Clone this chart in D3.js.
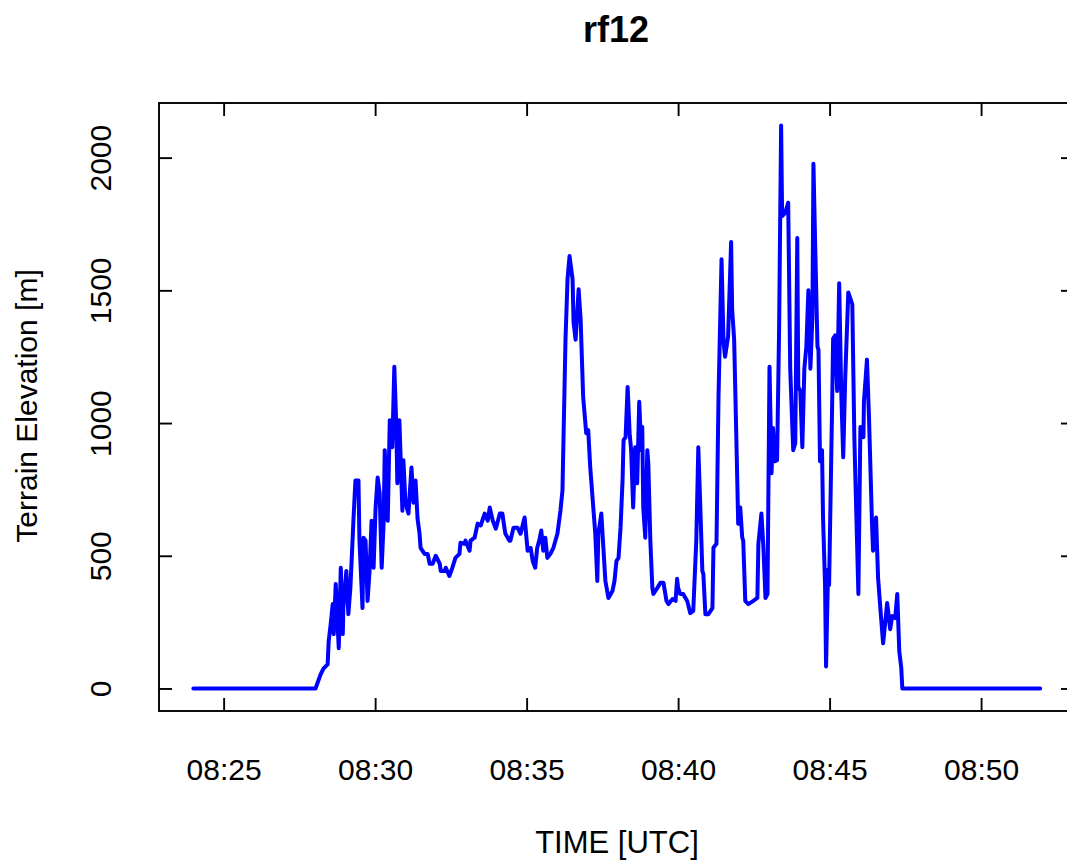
<!DOCTYPE html>
<html>
<head>
<meta charset="utf-8">
<script src="https://cdn.jsdelivr.net/npm/d3@7"></script>
<style>
  html, body { margin: 0; padding: 0; background: #fff; }
  svg text { font-family: "Liberation Sans", Arial, Helvetica, sans-serif; fill: #000; }
</style>
</head>
<body>
<div id="viz"></div>
<script>
// terrain elevation under flight rf12
// time is seconds after 08:00:00 UTC
const secondsAfter0800 = [
  1440, 1682, 1692, 1698, 1706, 1708, 1712, 1716, 1718, 1722, 1726, 1728, 1732, 1736, 1737,
  1743, 1747, 1751, 1755, 1757, 1761, 1767, 1769, 1775, 1777, 1781, 1785, 1789, 1793, 1797,
  1801, 1805, 1809, 1813, 1817, 1819, 1825, 1829, 1834, 1838, 1842, 1844, 1848, 1854, 1856,
  1860, 1866, 1872, 1876, 1880, 1884, 1888, 1890, 1898, 1904, 1908, 1914, 1920, 1928, 1930,
  1938, 1940, 1947, 1953, 1959, 1967, 1969, 1977, 1979, 1987, 1989, 1997, 2003, 2009, 2017,
  2023, 2027, 2033, 2039, 2047, 2052, 2056, 2058, 2066, 2068, 2074, 2082, 2088, 2096, 2102,
  2108, 2112, 2117, 2121, 2125, 2129, 2133, 2137, 2141, 2147, 2153, 2161, 2167, 2171, 2173,
  2177, 2181, 2185, 2191, 2193, 2197, 2201, 2203, 2207, 2210, 2212, 2218, 2222, 2226, 2232,
  2236, 2240, 2242, 2248, 2252, 2256, 2262, 2270, 2274, 2278, 2282, 2286, 2290, 2292, 2296,
  2300, 2304, 2307, 2311, 2315, 2319, 2323, 2327, 2329, 2331, 2335, 2339, 2341, 2345, 2349,
  2351, 2359, 2365, 2371, 2377, 2381, 2389, 2395, 2398, 2400, 2404, 2410, 2418, 2424, 2430,
  2436, 2440, 2444, 2448, 2450, 2454, 2460, 2468, 2470, 2476, 2480, 2486, 2490, 2493, 2499,
  2505, 2507, 2511, 2515, 2519, 2523, 2527, 2529, 2533, 2539, 2549, 2557, 2559, 2565, 2569,
  2573, 2577, 2581, 2585, 2588, 2592, 2596, 2600, 2604, 2606, 2612, 2618, 2622, 2626, 2628,
  2632, 2636, 2638, 2642, 2646, 2650, 2654, 2658, 2662, 2666, 2668, 2672, 2676, 2678, 2681,
  2685, 2687, 2691, 2693, 2697, 2699, 2705, 2707, 2711, 2715, 2719, 2723, 2727, 2731, 2737,
  2745, 2749, 2757, 2761, 2767, 2768, 2774, 2778, 2784, 2786, 2792, 2796, 2802, 2806, 2814,
  2820, 2824, 2830, 2834, 2838, 2842, 2844, 3117
];

const elevation = [
  0, 0, 53, 76, 91, 178, 242, 318, 205, 394, 227, 152, 455, 205, 303,
  443, 280, 379, 545, 632, 784, 784, 557, 303, 568, 557, 330, 443, 632, 455,
  682, 795, 735, 455, 632, 898, 632, 1011, 909, 1212, 985, 773, 1011, 670, 860,
  700, 659, 833, 700, 784, 640, 583, 530, 507, 507, 470, 470, 500, 470, 443,
  443, 455, 424, 455, 492, 507, 549, 545, 557, 519, 557, 568, 621, 614, 659,
  632, 682, 632, 602, 659, 659, 606, 583, 557, 557, 606, 606, 583, 644, 519,
  530, 481, 455, 530, 557, 595, 519, 568, 492, 507, 530, 583, 670, 746, 936,
  1314, 1542, 1629, 1542, 1379, 1314, 1439, 1504, 1390, 1212, 1098, 962, 973, 833, 682,
  583, 405, 583, 659, 530, 405, 341, 367, 405, 481, 492, 606, 784, 936, 947,
  1136, 962, 898, 682, 909, 773, 1080, 898, 985, 682, 568, 898, 848, 557, 379,
  356, 379, 398, 398, 330, 318, 337, 330, 413, 379, 356, 356, 330, 284, 292,
  557, 909, 682, 443, 432, 280, 280, 303, 530, 545, 1098, 1617, 1303, 1250, 1326,
  1682, 1428, 1314, 973, 621, 682, 568, 557, 330, 318, 330, 341, 545, 659, 530,
  341, 356, 1212, 811, 981, 856, 860, 1352, 2121, 1780, 1792, 1830, 1205, 996, 898,
  924, 1697, 1136, 1121, 909, 1205, 1288, 1500, 1205, 1402, 1977, 1625, 1288, 1276, 856,
  898, 644, 390, 83, 447, 390, 1064, 1318, 1330, 1121, 1527, 1121, 871, 1174, 1492,
  1447, 947, 356, 985, 947, 1080, 1239, 1023, 621, 519, 644, 417, 265, 170, 322,
  223, 273, 265, 356, 140, 76, 0, 0
];

const yTicks = [0, 500, 1000, 1500, 2000];
const titleText = "rf12";
const xLabel = "TIME [UTC]";
const yLabel = "Terrain Elevation [m]";

const W = 1067, H = 862;
const plot = { left: 159, right: 1074, top: 103, bottom: 711 };

const toDate = s => new Date(Date.UTC(2020, 0, 1, 8, 0, s));
const data = secondsAfter0800.map((s, i) => ({ t: toDate(s), e: elevation[i] }));

// R style 4% padding of the data range
function pad(ext) {
  const d = (ext[1] - ext[0]) * 0.04;
  return [ext[0] - d, ext[1] + d];
}

const tExt = pad(d3.extent(secondsAfter0800));
const x = d3.scaleUtc()
            .domain([toDate(tExt[0]), toDate(tExt[1])])
            .range([plot.left, plot.right]);

const y = d3.scaleLinear()
            .domain(pad(d3.extent(elevation)))
            .range([plot.bottom, plot.top]);

const svg = d3.select("#viz")
              .append("svg")
              .attr("width", W)
              .attr("height", H);

const xTickVals = x.ticks(d3.utcMinute.every(5));
const fmt = d3.utcFormat("%H:%M");

// the line
const line = d3.line()
               .x(d => x(d.t))
               .y(d => y(d.e));

svg.append("path")
   .datum(data)
   .attr("d", line)
   .attr("fill", "none")
   .attr("stroke", "#0000ff")
   .attr("stroke-width", 4)
   .attr("stroke-linejoin", "round")
   .attr("stroke-linecap", "round");

// box
svg.append("rect")
   .attr("x", plot.left)
   .attr("y", plot.top)
   .attr("width", plot.right - plot.left)
   .attr("height", plot.bottom - plot.top)
   .attr("fill", "none")
   .attr("stroke", "#000")
   .attr("stroke-width", 1.9);

// ticks point inward on all four sides
const tick = 13;
function styleAxis(g) {
  g.select(".domain").remove();
  g.selectAll(".tick line").attr("stroke", "#000").attr("stroke-width", 1.9);
}

svg.append("g")
   .attr("transform", `translate(0,${plot.bottom})`)
   .call(d3.axisBottom(x).tickValues(xTickVals).tickFormat(fmt).tickSize(-tick))
   .call(styleAxis)
   .call(g => g.selectAll(".tick text")
               .attr("y", 69).attr("dy", 0)
               .style("font-size", "30px"));

svg.append("g")
   .attr("transform", `translate(0,${plot.top})`)
   .call(d3.axisTop(x).tickValues(xTickVals).tickFormat("").tickSize(-tick))
   .call(styleAxis);

svg.append("g")
   .attr("transform", `translate(${plot.left},0)`)
   .call(d3.axisLeft(y).tickValues(yTicks).tickFormat(d3.format("d")).tickSize(-tick))
   .call(styleAxis)
   .call(g => g.selectAll(".tick text")
               .attr("x", 0).attr("dy", 0)
               .attr("text-anchor", "middle")
               .attr("transform", "translate(-48,0) rotate(-90)")
               .style("font-size", "30px"));

svg.append("g")
   .attr("transform", `translate(${plot.right},0)`)
   .call(d3.axisRight(y).tickValues(yTicks).tickFormat("").tickSize(-tick))
   .call(styleAxis);

// titles
svg.append("text")
   .attr("x", 616)
   .attr("y", 42)
   .attr("text-anchor", "middle")
   .style("font-size", "36px")
   .style("font-weight", "bold")
   .text(titleText);

svg.append("text")
   .attr("x", 617)
   .attr("y", 853)
   .attr("text-anchor", "middle")
   .style("font-size", "31px")
   .text(xLabel);

svg.append("text")
   .attr("transform", `translate(37,406) rotate(-90)`)
   .attr("text-anchor", "middle")
   .style("font-size", "30px")
   .text(yLabel);
</script>
</body>
</html>
